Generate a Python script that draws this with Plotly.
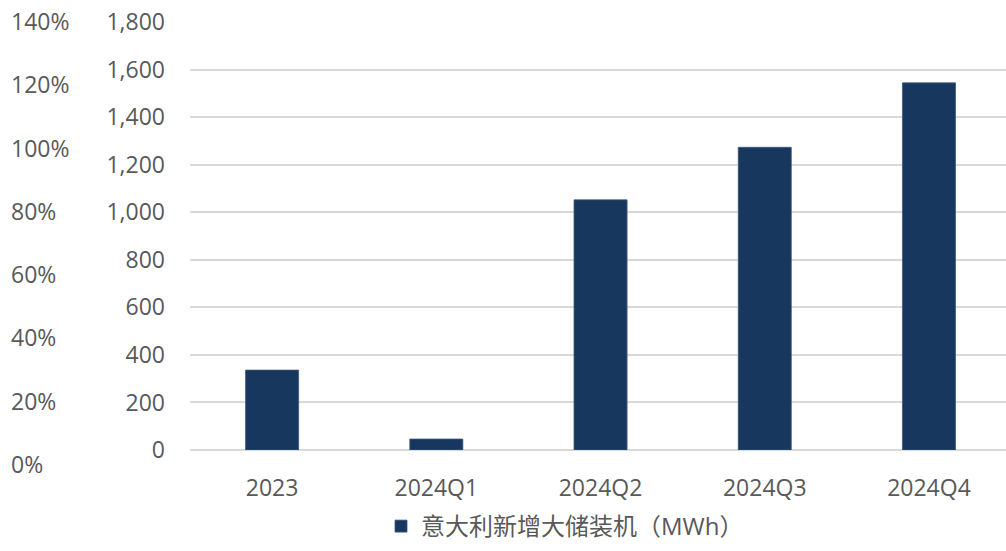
import plotly.graph_objects as go

# Italy: newly added large-scale energy storage (MWh)
periods = ["2023", "2024Q1", "2024Q2", "2024Q3", "2024Q4"]
storage_mwh = [336, 46, 1052, 1273, 1544]
series_name = "意大利新增大储装机（MWh）"

bar_color = "#17375E"
text_color = "#595959"
grid_color = "#D9D9D9"
font_family = "Open Sans, Noto Sans CJK SC, sans-serif"
tick_size = 23

fig = go.Figure()

fig.add_trace(go.Bar(
    x=periods,
    y=storage_mwh,
    name=series_name,
    marker=dict(color=bar_color, line=dict(color="#3B5A80", width=0.8)),
    xaxis="x",
    yaxis="y",
))

# empty helper trace so the percentage axis is rendered on its own subplot
fig.add_trace(go.Scatter(
    x=[], y=[], xaxis="x2", yaxis="y2", showlegend=False, hoverinfo="skip",
))

fig.update_layout(
    width=1006,
    height=551,
    margin=dict(l=0, r=0, t=22, b=86),
    paper_bgcolor="white",
    plot_bgcolor="rgba(0,0,0,0)",
    font=dict(family=font_family, size=tick_size, color=text_color),
    bargap=0.677,
    showlegend=True,
    legend=dict(
        orientation="h",
        x=381 / 1006, xanchor="left",
        y=-(549 - 465) / 443, yanchor="bottom",
        font=dict(size=24, color=text_color),
        itemwidth=30,
    ),
    xaxis=dict(
        domain=[190 / 1006, 1.0],
        range=[-0.5, 4.469],
        anchor="y",
        showgrid=False,
        showline=False,
        zeroline=False,
        ticks="",
        ticklabelstandoff=22,
        tickfont=dict(size=tick_size, color=text_color),
    ),
    yaxis=dict(
        domain=[15 / 443, 1.0],
        range=[0, 1800],
        dtick=200,
        tickformat=",d",
        showgrid=True,
        gridcolor=grid_color,
        gridwidth=1.5,
        zeroline=True,
        zerolinecolor=grid_color,
        zerolinewidth=1.5,
        showline=False,
        ticks="",
        ticklabelstandoff=24,
        tickfont=dict(size=tick_size, color=text_color),
        anchor="x",
    ),
    xaxis2=dict(
        domain=[0.0, 0.01],
        anchor="y2",
        visible=False,
    ),
    yaxis2=dict(
        domain=[0.0, 1.0],
        range=[0, 1.4],
        dtick=0.2,
        tickformat=".0%",
        showgrid=False,
        zeroline=False,
        showline=False,
        ticks="",
        side="right",
        anchor="free",
        position=0.0,
        ticklabelstandoff=10,
        tickfont=dict(size=tick_size, color=text_color),
    ),
)

fig.write_html("out.html")
